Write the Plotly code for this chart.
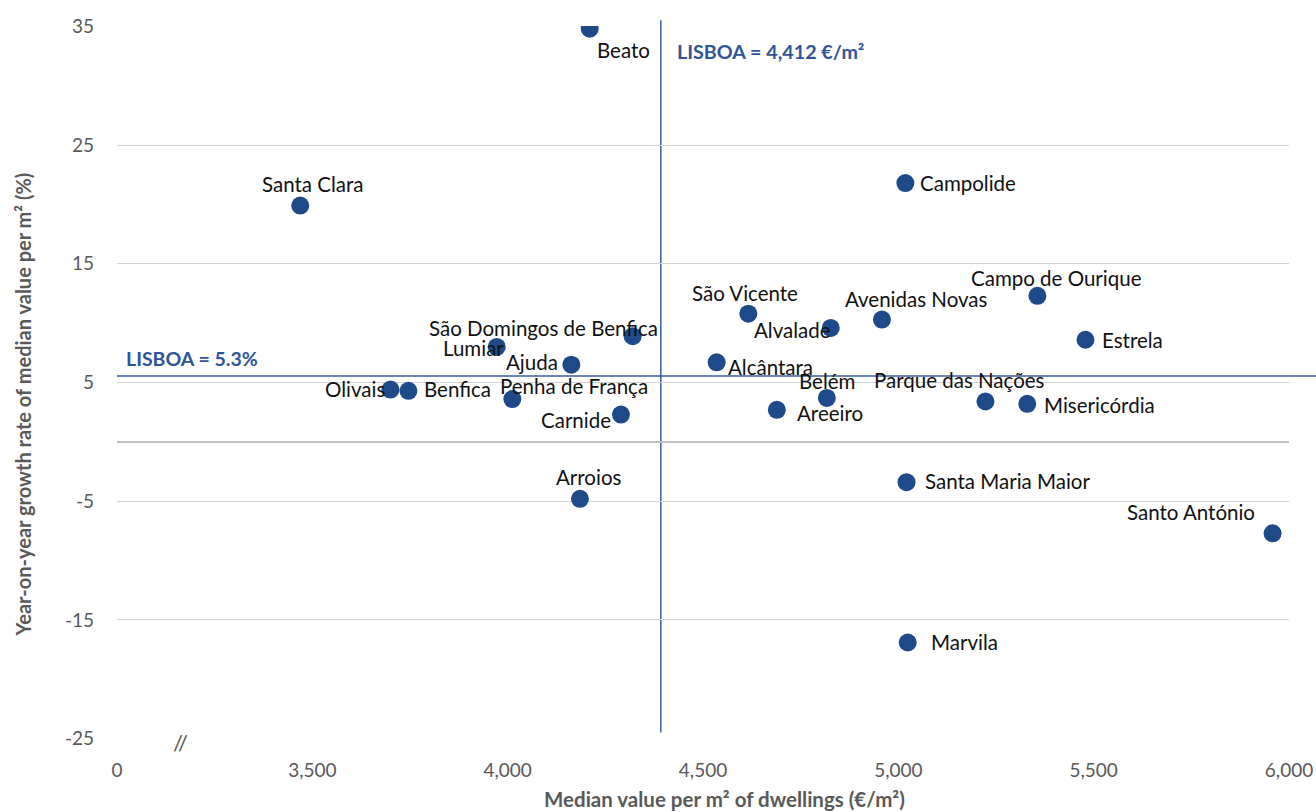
import plotly.graph_objects as go

# ---------------- data ----------------
NAMES = ["Beato", "Santa Clara", "Campolide", "Campo de Ourique", "Estrela",
         "Avenidas Novas", "Alvalade", "São Vicente", "São Domingos de Benfica",
         "Lumiar", "Ajuda", "Alcântara", "Olivais", "Benfica", "Penha de França",
         "Carnide", "Belém", "Areeiro", "Parque das Nações", "Misericórdia",
         "Arroios", "Santa Maria Maior", "Santo António", "Marvila"]
PRICE = [4210, 3469, 5018, 5356, 5479,
         4958, 4827, 4616, 4320,
         3972, 4163, 4535, 3700, 3746, 4012,
         4290, 4817, 4689, 5223, 5330,
         4185, 5021, 5958, 5024]
GROWTH = [34.8, 19.9, 21.8, 12.3, 8.6,
          10.3, 9.6, 10.8, 8.9,
          8.0, 6.5, 6.7, 4.4, 4.3, 3.6,
          2.3, 3.7, 2.7, 3.4, 3.2,
          -4.8, -3.4, -7.7, -16.9]

X_TICKVALS = [3000, 3500, 4000, 4500, 5000, 5500, 6000]
X_TICKTEXT = ["0", "3,500", "4,000", "4,500", "5,000", "5,500", "6,000"]
Y_TICKVALS = [-25, -15, -5, 5, 15, 25, 35]
Y_TICKTEXT = ["-25", "-15", "-5", "5", "15", "25", "35"]

LISBOA_X = 4392     # drawn position of the city-wide price line
LISBOA_Y = 5.55     # drawn position of the city-wide growth line
LISBOA_X_TEXT = "LISBOA = 4,412 €/m²"
LISBOA_Y_TEXT = "LISBOA = 5.3%"

# label placement (anchor, dx px right, dy px down)
LABEL_POS = {
    "Beato": ("left", 5, 21),
    "Santa Clara": ("center", 12, -22),
    "Campolide": ("left", 13, 0),
    "Campo de Ourique": ("center", 19, -18),
    "Estrela": ("left", 15, 0),
    "Avenidas Novas": ("center", 35, -21),
    "Alvalade": ("right", 2, 2),
    "São Vicente": ("center", -3, -21),
    "São Domingos de Benfica": ("center", -89, -8),
    "Lumiar": ("right", 9, 1),
    "Ajuda": ("right", -11, -3),
    "Alcântara": ("left", 9, 5),
    "Olivais": ("right", -3, -1),
    "Benfica": ("left", 14, -2),
    "Penha de França": ("center", 62, -13),
    "Carnide": ("right", -8, 5),
    "Belém": ("center", 0, -17),
    "Areeiro": ("left", 18, 3),
    "Parque das Nações": ("center", -26, -21),
    "Misericórdia": ("left", 15, 1),
    "Arroios": ("center", 9, -22),
    "Santa Maria Maior": ("left", 16, -1),
    "Santo António": ("right", -16, -21),
    "Marvila": ("left", 21, 0),
}

FONT = "Lato, 'Open Sans', sans-serif"
MARKER = "#1F4A8A"
LINE = "#3A5E9C"
LBLUE = "#2F5597"
GRAY_TXT = "#595959"

fig = go.Figure()
fig.add_trace(go.Scatter(
    x=PRICE, y=GROWTH, mode="markers",
    marker=dict(size=18, color=MARKER),
    hovertext=NAMES, hoverinfo="text", showlegend=False,
))

annotations = []
for n, xv, yv in zip(NAMES, PRICE, GROWTH):
    anc, dx, dy = LABEL_POS[n]
    annotations.append(dict(
        x=xv, y=yv, xref="x", yref="y", text=n, showarrow=False,
        xanchor=anc, yanchor="middle", xshift=dx, yshift=-dy,
        font=dict(family=FONT, size=20.5, color="#111111"),
    ))

# LISBOA labels
annotations.append(dict(x=LISBOA_X, y=35, xref="x", yref="y", text="<b>" + LISBOA_X_TEXT + "</b>",
                        showarrow=False, xanchor="left", yanchor="middle", xshift=14, yshift=-25,
                        font=dict(family=FONT, size=19.7, color=LBLUE)))
annotations.append(dict(x=3000, y=LISBOA_Y, xref="x", yref="y", text="<b>" + LISBOA_Y_TEXT + "</b>",
                        showarrow=False, xanchor="left", yanchor="middle", xshift=7, yshift=17,
                        font=dict(family=FONT, size=19.5, color=LBLUE)))
# axis break marker
annotations.append(dict(x=0.054, y=-25, xref="paper", yref="y", text="//", showarrow=False,
                        xanchor="center", yanchor="middle", yshift=-4,
                        font=dict(family=FONT, size=22, color=GRAY_TXT)))
# axis titles
annotations.append(dict(x=0.518, y=0, xref="paper", yref="paper", yshift=-60,
                        text="<b>Median value per m² of dwellings (€/m²)</b>", showarrow=False,
                        xanchor="center", yanchor="middle",
                        font=dict(family=FONT, size=20.5, color=GRAY_TXT)))
annotations.append(dict(x=0, y=0.5, xref="paper", yref="paper", xshift=-95, yshift=-22,
                        text="<b>Year-on-year growth rate of median value per m² (%)</b>", showarrow=False,
                        textangle=-90, xanchor="center", yanchor="middle",
                        font=dict(family=FONT, size=20, color=GRAY_TXT)))

shapes = [
    # gap in the bottom gridline (axis break)
    dict(type="line", xref="x", yref="y", x0=3075, x1=3255, y0=-25, y1=-25,
         line=dict(color="white", width=4), layer="above"),
    # city-wide reference lines
    dict(type="line", xref="x", yref="paper", x0=LISBOA_X, x1=LISBOA_X, y0=0.009, y1=1.008,
         line=dict(color=LINE, width=1.5), layer="below"),
    dict(type="line", xref="paper", yref="y", x0=0, x1=1.03, y0=LISBOA_Y, y1=LISBOA_Y,
         line=dict(color=LINE, width=1.5), layer="below"),
]

fig.update_layout(
    width=1316, height=812, autosize=False,
    margin=dict(l=117, r=27, t=26, b=73, autoexpand=False),
    paper_bgcolor="white", plot_bgcolor="white",
    font=dict(family=FONT, size=19, color=GRAY_TXT),
    annotations=annotations, shapes=shapes,
    xaxis=dict(range=[3000, 6000], tickvals=X_TICKVALS, ticktext=X_TICKTEXT,
               showgrid=False, zeroline=False, showline=False, ticks="", automargin=False,
               ticklabelstandoff=18, tickfont=dict(size=19, color=GRAY_TXT)),
    yaxis=dict(range=[-25.03, 35.03], tickvals=Y_TICKVALS, ticktext=Y_TICKTEXT,
               showgrid=True, gridcolor="#D4D4D4", automargin=False,
               gridwidth=1.3, zeroline=True, zerolinecolor="#BFBFBF", zerolinewidth=1.6,
               showline=False, ticks="", ticklabelstandoff=22,
               tickfont=dict(size=19, color=GRAY_TXT)),
)

fig.write_html("out.html", config={"displayModeBar": False, "responsive": False},
               post_script="document.body.style.margin='0';")
